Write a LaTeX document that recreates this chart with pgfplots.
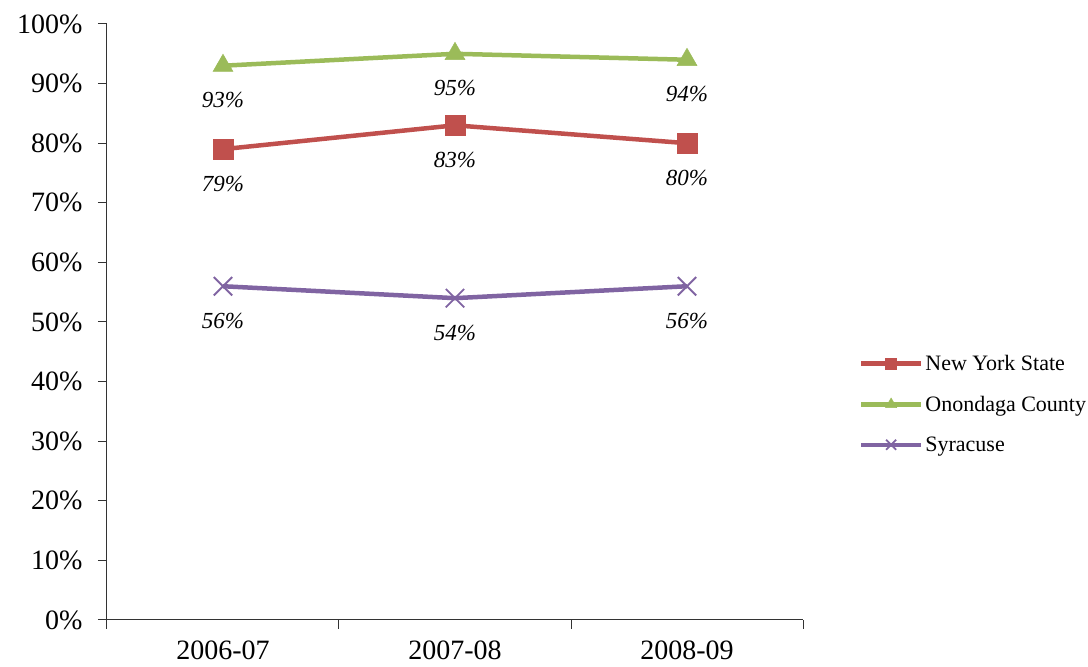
\documentclass[border=0pt]{standalone}
\usepackage{fontspec}
\setmainfont{Liberation Serif}
\usepackage{pgfplots}
\pgfplotsset{compat=1.18}
\definecolor{nysred}{HTML}{C0504D}
\definecolor{ocgreen}{HTML}{9BBB59}
\definecolor{sypurple}{HTML}{8064A2}
\begin{document}
\begin{tikzpicture}
\useasboundingbox (-107pt,-47pt) rectangle (981pt,620pt);
\begin{axis}[
  at={(0pt,0pt)}, anchor=south west,
  scale only axis, width=696pt, height=596pt,
  xmin=-0.5, xmax=2.5, ymin=0, ymax=100,
  axis x line*=bottom, axis y line*=left,
  axis line style={black!80, line width=1pt},
  every tick/.style={black!80, line width=1pt},
  tick align=outside,
  major tick length=9pt, minor tick length=9pt,
  xtick={0,1,2}, xticklabels={2006-07,2007-08,2008-09},
  minor xtick={-0.5,0.5,1.5,2.5},
  major x tick style={draw=none},
  ytick={0,10,...,100},
  yticklabel={\pgfmathprintnumber{\tick}\%},
  /pgf/number format/assume math mode=true,
  ticklabel style={font=\fontsize{28}{30}\selectfont},
  xticklabel style={yshift=-8pt},
  yticklabel style={xshift=-12pt},
  nodes near coords={\pgfmathprintnumber{\pgfplotspointmeta}\%},
  nodes near coords style={anchor=north, yshift=-23pt, text=black,
     font=\fontsize{23}{25}\selectfont\itshape},
  legend style={at={(1.08,0.448)}, anchor=north west, draw=none, fill=none,
     font=\fontsize{22}{24}\selectfont, row sep=20pt, inner sep=0pt,
     /tikz/every even column/.append style={column sep=4pt}},
  legend cell align=left,
  legend image code/.code={\draw[mark repeat=2,mark phase=2,#1,
     every mark/.append style={scale=0.55}]
     plot coordinates {(0pt,0pt) (30pt,0pt) (60pt,0pt)};},
]
\addplot[color=nysred, line width=4.5pt, mark=square*, mark size=10pt,
  mark options={line width=0.5pt, solid}]
  coordinates {(0,79) (1,83) (2,80)};
\addlegendentry{New York State}
\addplot[color=ocgreen, line width=4.5pt, mark=triangle*, mark size=11.5pt,
  mark options={line width=0.5pt, solid}]
  coordinates {(0,93) (1,95) (2,94)};
\addlegendentry{Onondaga County}
\addplot[color=sypurple, line width=4.5pt, mark=x, mark size=13pt,
  mark options={line width=1.8pt, solid}]
  coordinates {(0,56) (1,54) (2,56)};
\addlegendentry{Syracuse}
\end{axis}
\end{tikzpicture}
\end{document}
